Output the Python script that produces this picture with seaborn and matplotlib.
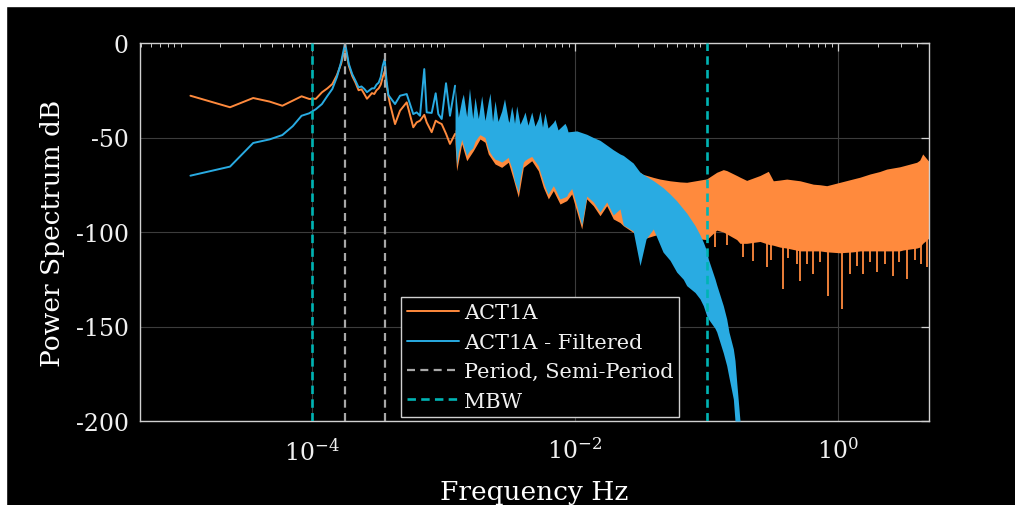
import numpy as np
import matplotlib
matplotlib.use("Agg")
import matplotlib.pyplot as plt
from matplotlib.lines import Line2D
from matplotlib.patches import Rectangle
from matplotlib.ticker import FixedLocator, NullFormatter, LogFormatterMathtext
import seaborn as sns

# ---- data (Hz, dB) ----
# low frequency part, drawn as plain lines
line_f = [1.19e-5, 2.38e-5, 3.57e-5, 4.76e-5, 5.95e-5, 7.14e-5, 8.33e-5, 9.52e-5,
          1.071e-4, 1.19e-4, 1.309e-4, 1.428e-4, 1.547e-4, 1.666e-4, 1.785e-4, 1.904e-4,
          2.023e-4, 2.142e-4, 2.261e-4, 2.38e-4, 2.499e-4, 2.618e-4, 2.737e-4, 2.856e-4,
          2.975e-4, 3.094e-4, 3.213e-4, 3.332e-4, 3.451e-4, 3.57e-4, 3.689e-4, 3.808e-4,
          3.92e-4, 4.28e-4, 4.67e-4, 5.25e-4, 5.56e-4, 5.89e-4, 6.25e-4, 6.63e-4,
          7.14e-4, 7.45e-4, 8.13e-4, 8.72e-4, 9.13e-4, 9.69e-4, 1.045e-3, 1.12e-3, 1.224e-3]
orange_line_db = [-27.9, -34.0, -29.1, -31.0, -33.2, -30.5, -28.2, -29.6,
                  -29.5, -26.1, -24.0, -21.7, -17.0, -11.0, -2.0, -12.0,
                  -17.5, -21.0, -25.0, -24.5, -27.0, -29.5, -28.0, -26.5,
                  -27.0, -25.0, -24.0, -22.0, -18.0, -15.0, -22.0, -28.0,
                  -32.3, -42.9, -35.8, -31.4, -38.0, -44.6, -42.0, -41.1,
                  -38.0, -42.0, -47.2, -41.1, -42.0, -42.9, -48.0, -53.4, -48.1]
blue_line_db = [-70.2, -65.4, -52.9, -51.0, -48.7, -44.0, -38.5, -37.2,
                -35.0, -32.3, -28.0, -24.3, -18.0, -10.0, 0.0, -11.0,
                -16.5, -20.0, -23.5, -23.0, -24.3, -26.0, -25.0, -24.0,
                -24.0, -22.0, -21.0, -18.0, -12.0, -8.5, -20.0, -27.5,
                -28.7, -32.3, -27.9, -27.0, -32.3, -37.6, -36.7, -38.5,
                -13.8, -36.7, -37.0, -26.6, -37.6, -40.2, -21.3, -38.5, -22.6]

# dense part: upper / lower edge of the filled-looking band
blue_band_f = [1.224e-3, 1.258e-3, 1.296e-3, 1.375e-3, 1.415e-3, 1.501e-3, 1.576e-3, 1.668e-3,
               1.736e-3, 1.839e-3, 1.895e-3, 1.952e-3, 2.068e-3, 2.19e-3, 2.258e-3, 2.36e-3,
               2.464e-3, 2.597e-3, 2.77e-3, 2.91e-3, 3.11e-3, 3.147e-3, 3.301e-3, 3.395e-3,
               3.467e-3, 3.602e-3, 3.705e-3, 3.817e-3, 4.045e-3, 4.168e-3, 4.39e-3, 4.687e-3,
               4.96e-3, 5.26e-3, 5.42e-3, 5.66e-3, 5.74e-3, 5.91e-3, 6.23e-3, 6.84e-3,
               7.04e-3, 7.43e-3, 7.69e-3, 8.39e-3, 8.65e-3, 8.85e-3, 9.44e-3, 1.03e-2,
               1.125e-2, 1.227e-2, 1.378e-2, 1.549e-2, 1.742e-2, 1.956e-2, 2.199e-2, 2.33e-2,
               2.77e-2, 3.12e-2, 3.47e-2, 3.94e-2, 4.67e-2, 5.28e-2, 5.93e-2, 6.66e-2,
               7.07e-2, 8.18e-2, 8.92e-2, 9.46e-2, 0.1003, 0.1032, 0.1161, 0.1196,
               0.1342, 0.1424, 0.1483, 0.160, 0.1647, 0.1697, 0.1798]
blue_band_hi = [-22.6, -31.0, -39.3, -30.0, -27.0, -39.0, -24.0, -40.0,
                -28.7, -40.0, -34.0, -27.9, -41.0, -31.0, -26.5, -41.5,
                -30.5, -41.5, -36.0, -29.5, -41.0, -42.0, -33.5, -38.0,
                -42.5, -33.2, -38.0, -43.0, -39.0, -36.5, -43.5, -36.5,
                -44.0, -40.0, -36.0, -44.5, -42.0, -37.0, -45.0, -42.0,
                -40.5, -46.0, -45.0, -42.5, -44.5, -47.0, -46.8, -46.5,
                -47.4, -48.3, -50.0, -51.5, -54.0, -56.5, -58.7, -59.5,
                -63.5, -68.4, -70.5, -72.8, -76.5, -79.9, -83.5, -87.8,
                -90.0, -96.6, -101.5, -105.4, -110.0, -114.3, -124.9, -128.0,
                -139.0, -146.0, -153.0, -161.9, -168.0, -179.4, -200.0]
blue_band_lo = [-50.0, -64.5, -58.0, -51.0, -54.0, -59.5, -57.0, -55.5,
                -52.0, -49.5, -48.5, -49.0, -50.0, -56.0, -58.0, -60.0,
                -61.5, -62.0, -63.0, -62.0, -60.5, -62.0, -66.0, -69.5,
                -73.0, -76.0, -79.0, -72.0, -63.0, -62.0, -61.0, -60.0,
                -62.5, -65.0, -68.0, -72.0, -73.5, -76.0, -80.0, -75.5,
                -77.0, -80.5, -82.5, -81.5, -81.0, -79.5, -77.0, -86.0,
                -96.3, -81.0, -84.1, -89.4, -84.1, -91.0, -87.8, -96.3,
                -99.5, -117.8, -103.7, -98.4, -110.6, -115.0, -121.2, -125.0,
                -128.4, -132.0, -135.4, -139.0, -144.3, -146.0, -151.0, -152.9,
                -164.0, -170.7, -177.0, -188.4, -200.0, -200.0, -200.0]

orange_band_f = [1.224e-3, 1.258e-3, 1.375e-3, 1.501e-3, 1.685e-3, 1.895e-3, 2.068e-3, 2.19e-3,
                 2.464e-3, 2.77e-3, 3.11e-3, 3.395e-3, 3.705e-3, 4.045e-3, 4.687e-3, 5.26e-3,
                 5.74e-3, 6.27e-3, 6.84e-3, 7.69e-3, 8.65e-3, 9.44e-3, 1.125e-2, 1.227e-2,
                 1.378e-2, 1.549e-2, 1.742e-2, 1.956e-2, 2.199e-2, 2.33e-2, 2.77e-2, 3.12e-2,
                 3.29e-2, 3.94e-2, 4.43e-2, 5.28e-2, 6.29e-2, 7.07e-2, 0.1003, 0.1196,
                 0.1342, 0.1424, 0.1697, 0.1798, 0.2021, 0.2552, 0.2951, 0.3221,
                 0.3622, 0.4073, 0.514, 0.6488, 0.7295, 0.8206, 1.036, 1.307,
                 1.470, 1.751, 2.075, 2.346, 2.945, 3.138, 3.968, 4.181,
                 4.407, 4.86, 5.0]
orange_band_hi = [-46.0, -46.0, -46.0, -46.0, -46.0, -46.0, -46.0, -46.0,
                  -46.5, -46.5, -47.0, -47.0, -47.0, -47.5, -47.5, -48.0,
                  -48.0, -48.5, -48.5, -49.0, -49.5, -50.0, -51.5, -52.0,
                  -53.5, -55.0, -57.0, -59.0, -61.0, -62.5, -65.5, -68.4,
                  -69.5, -71.1, -72.0, -72.9, -73.5, -73.7, -71.9, -68.4,
                  -67.0, -67.5, -70.1, -71.0, -72.7, -70.1, -67.9, -72.9,
                  -72.5, -72.0, -72.9, -74.7, -75.0, -75.5, -73.7, -71.9,
                  -71.0, -69.3, -68.0, -66.7, -65.5, -65.0, -63.1, -62.0,
                  -58.7, -62.3, -62.0]
orange_band_lo = [-53.4, -67.6, -53.4, -62.3, -57.0, -50.8, -52.5, -58.7,
                  -64.0, -65.8, -63.1, -72.0, -81.6, -65.8, -62.3, -67.6,
                  -76.3, -82.5, -78.1, -85.2, -83.4, -79.9, -98.4, -82.5,
                  -86.1, -91.4, -86.1, -93.1, -95.0, -96.7, -100.2, -102.0,
                  -103.7, -102.0, -101.0, -102.0, -102.6, -103.0, -104.0, -99.0,
                  -100.0, -101.0, -104.0, -106.0, -106.0, -105.0, -106.5, -107.0,
                  -108.0, -108.5, -110.0, -110.0, -110.0, -110.5, -111.0, -110.5,
                  -110.0, -110.0, -110.0, -110.0, -110.0, -109.5, -108.5, -108.0,
                  -106.0, -103.5, -103.0]

# narrow downward spikes below the orange band
orange_dip_base = -100.0
orange_dip_f = [0.1161, 0.1432, 0.1905, 0.2269, 0.287, 0.3094, 0.3797, 0.4168,
                0.4852, 0.514, 0.581, 0.6488, 0.7295, 0.8437, 1.067, 1.234,
                1.395, 1.557, 1.751, 1.969, 2.277, 2.606, 2.894, 3.33,
                3.83, 4.255, 4.727]
orange_dip_db = [-108.0, -107.0, -113.4, -115.2, -118.7, -115.0, -130.2, -114.0,
                 -116.9, -125.8, -117.0, -122.2, -116.0, -133.7, -140.7, -122.2,
                 -118.0, -122.2, -116.0, -121.3, -117.0, -123.1, -116.0, -124.9,
                 -115.0, -117.0, -118.7]

period_f = [1.785e-4, 3.57e-4]
mbw_f = [1e-4, 0.1]

x_major = [1e-4, 1e-2, 1e0]
y_ticks = [-200, -150, -100, -50, 0]

orange = "#FF8A3D"
blue = "#29ABE2"
gray = "#A8A8A8"
cyan = "#00B4B4"

# ---- style ----
sns.set_style("dark", rc={
    "axes.facecolor": "black",
    "figure.facecolor": "black",
    "axes.edgecolor": "#d0d0d0",
    "grid.color": "#3c3c3c",
    "text.color": "white",
    "axes.labelcolor": "white",
    "xtick.color": "#d0d0d0",
    "ytick.color": "#d0d0d0",
})
plt.rcParams["font.family"] = ["DejaVu Serif"]
plt.rcParams["mathtext.fontset"] = "dejavuserif"
plt.rcParams["axes.unicode_minus"] = False

fig = plt.figure(figsize=(10.15, 5.06), dpi=100)
fig.patches.append(Rectangle((0, 1 - 7 / 506), 1, 7 / 506, transform=fig.transFigure,
                             color="white", zorder=0))
fig.patches.append(Rectangle((0, 0), 6 / 1015, 1, transform=fig.transFigure,
                             color="white", zorder=0))
ax = fig.add_axes([140 / 1015, 84 / 506, 789 / 1015, 378 / 506])
ax.set_xscale("log")

# low frequency lines (own x range, drawn first)
sns.lineplot(x=line_f, y=orange_line_db, color=orange, lw=1.4, estimator=None, ax=ax, zorder=1.5)
sns.lineplot(x=line_f, y=blue_line_db, color=blue, lw=1.4, estimator=None, ax=ax, zorder=1.6)

# dense bands
ax.fill_between(orange_band_f, orange_band_lo, orange_band_hi, color=orange, lw=0, zorder=2)
ax.vlines(orange_dip_f, orange_dip_db, orange_dip_base, color=orange, lw=1.3, zorder=2)
ax.fill_between(blue_band_f, blue_band_lo, blue_band_hi, color=blue, lw=0, zorder=3)

gray_ls = (0, (3.6, 2.4))
cyan_ls = (0, (3.2, 2.0))
for f in period_f:
    ax.axvline(f, color=gray, lw=1.6, ls=gray_ls, zorder=4)
for f in mbw_f:
    ax.axvline(f, color=cyan, lw=1.9, ls=cyan_ls, zorder=4)

ax.set_xlim(4.92e-6, 4.92)
ax.set_ylim(-200, 0)
ax.xaxis.set_major_locator(FixedLocator(x_major))
ax.xaxis.set_major_formatter(LogFormatterMathtext())
minor = [k * 10.0 ** n for n in range(-6, 1) for k in range(1, 10)]
minor = [m for m in minor if min(abs(np.log10(m) - np.log10(t)) for t in x_major) > 1e-6]
ax.xaxis.set_minor_locator(FixedLocator(minor))
ax.xaxis.set_minor_formatter(NullFormatter())
ax.set_yticks(y_ticks)
ax.set_yticklabels([str(v) for v in y_ticks])

ax.grid(True, which="major", color="#3c3c3c", lw=0.8)
ax.set_axisbelow(True)
ax.tick_params(which="both", direction="in", top=True, right=True, labelcolor="#f0f0f0")
ax.tick_params(which="major", length=5.5, width=0.9)
ax.tick_params(which="minor", length=2.6, width=0.7)
ax.tick_params(axis="x", which="major", labelsize=17, pad=12)
ax.tick_params(axis="y", which="major", labelsize=17, pad=8)
for s in ax.spines.values():
    s.set_color("#d0d0d0")
    s.set_linewidth(1.0)

ax.set_xlabel("Frequency Hz", fontsize=19, labelpad=11)
ax.set_ylabel("Power Spectrum dB", fontsize=19, labelpad=8)

handles = [
    Line2D([], [], color=orange, lw=1.4),
    Line2D([], [], color=blue, lw=1.4),
    Line2D([], [], color=gray, lw=1.6, ls=gray_ls),
    Line2D([], [], color=cyan, lw=1.9, ls=cyan_ls),
]
labels = ["ACT1A", "ACT1A - Filtered", "Period, Semi-Period", "MBW"]
leg = ax.legend(handles, labels, loc="lower left", bbox_to_anchor=(0.331, 0.0106),
                borderaxespad=0, fontsize=15, frameon=True, fancybox=False,
                facecolor="black", edgecolor="#d0d0d0", framealpha=1,
                handlelength=2.5, handletextpad=0.2, labelspacing=0.5,
                borderpad=0.3)
leg.get_frame().set_linewidth(1.0)
for t in leg.get_texts():
    t.set_color("#f0f0f0")

fig.savefig("out.png", dpi=100, facecolor=fig.get_facecolor())
